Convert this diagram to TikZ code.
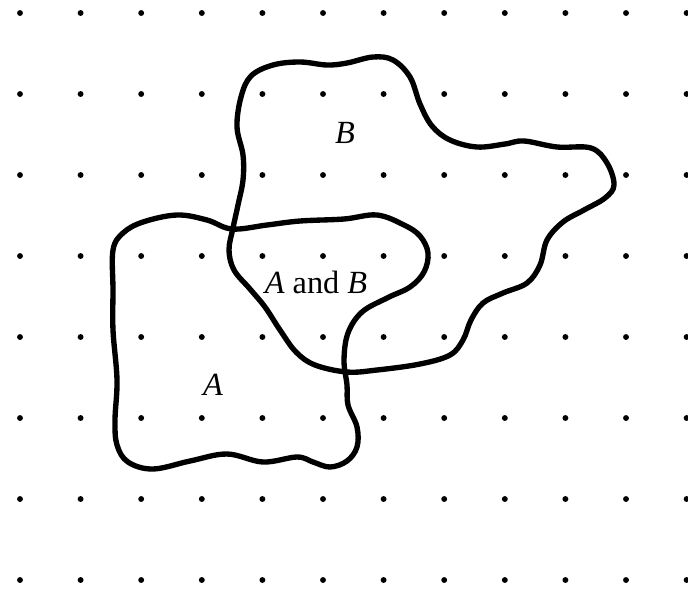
\documentclass[tikz,border=0pt]{standalone}
\usepackage{fontspec}
\setmainfont{Liberation Serif}
\begin{document}
\begin{tikzpicture}[x=0.025cm, y=-0.025cm,
    every node/.style={align=center, font=\fontsize{23}{27}\selectfont},
    blob/.style={line width=3.8pt, line join=round},
    griddot/.style={fill=black}]
    \useasboundingbox (0,0) rectangle (688,594);

    % dot paper
    \foreach \i in {0,...,11}
      \foreach \j in {0,...,7}
        \fill[griddot] (20+60.6*\i, 13+81*\j) circle[radius=2.1pt];

    % set A
    \draw[blob] plot[smooth cycle, tension=0.6] coordinates {
      (113,250) (123,233) (143,222) (177,215) (207,220) (232,229) (267,225)
      (300,221) (344,219) (377,215) (404,225) (420,236) (428,253) (424,272)
      (410,287) (387,298) (362,312) (348,333) (344,360) (347,385) (348,405)
      (357,427) (357,447) (347,461) (330,467) (313,462) (297,457) (263,462)
      (227,454) (190,461) (153,469) (128,462) (117,445) (115,420) (117,380)
      (113,330) (113,290)};

    % set B
    \draw[blob] plot[smooth cycle, tension=0.6] coordinates {
      (251,76) (273,65) (300,62) (327,65) (347,63) (373,57) (393,60)
      (410,77) (420,104) (432,126) (450,140) (477,147) (505,144) (524,141)
      (557,147) (591,148) (607,163) (614,185) (605,198) (584,210) (563,222)
      (547,240) (540,265) (527,283) (503,293) (483,303) (471,320) (463,340)
      (450,355) (420,364) (377,370) (347,372) (315,365) (296,352) (280,330)
      (265,307) (250,289) (234,270) (229,250) (233,228) (238,205) (243,180)
      (243,155) (237,127) (241,97)};

    \node (labB) at (345,133) {\textit{B}};
    \node (labAB) at (316,282) {\textit{A} and \textit{B}};
    \node (labA) at (213,385) {\textit{A}};
\end{tikzpicture}
\end{document}
